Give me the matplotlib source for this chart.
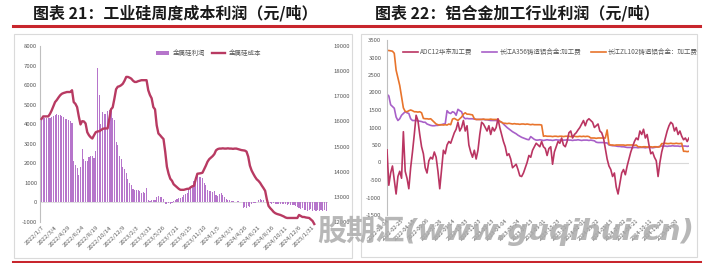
from __future__ import annotations

import matplotlib

matplotlib.use("Agg")
import matplotlib.pyplot as plt
import pandas as pd
from matplotlib.lines import Line2D
from matplotlib.patches import Rectangle

# ---- left panel: industrial silicon, weekly (from 2022/1/7) ----
si_start = "2022-01-07"
si_profit = [
    4300, 4300, 4300, 4320, 4300, 4300, 4350,
    4400, 4450, 4500, 4480, 4450, 4400,
    4380, 4250, 4250, 4200, 4150,
    4050, 2100, 1900,
    1750, 1400, 1800,
    2750, 2200, 2100,
    2100, 2300, 2400, 2350, 2250, 2650,
    6900, 5500, 4000, 4650,
    4500, 4500, 4700, 4750, 4700,
    4300, 4200, 3100, 2950,
    2400, 2200, 1800, 1700, 1500, 1200, 1000, 900,
    700, 650, 650, 650, 600, 500, 550, 500, 750,
    100, 80, 100, 120, 100,
    300, 320, 280, 300, 200,
    -100, -80, -50, -60, -40, 50,
    150, 200, 250, 250, 300, 400, 450,
    500, 700, 800, 850, 1100,
    1300, 1350, 1300, 1300, 1250, 1000,
    900, 650, 600, 600, 550, 600, 400, 350, 450, 500,
    400, 300, 200, 150, 100, 80, 50, 40, 30, 50, 30, 20,
    -300, -250, -300, -200, -250, -100,
    -50, -30, 0, 100, 180, 150, 100, 20,
    0, -20, -50, -60, -50,
    -80, -60, -100, -80, -100, -90, -100, -120, -100, -110, -150, -130, -200, -220,
    -300, -350, -300, -400, -380, -420, -400, -350, -420, -400, -430, -380, -420,
    -400, -430, -410, -420,
]
si_cost = [
    16100, 16200, 16200, 16200, 16200, 16300, 16440, 16600, 16770, 16850,
    16950, 17040, 17100, 17130, 17150, 17170, 17170, 17170, 17240, 16770,
    16700, 16570, 16200, 15880, 16010, 16000, 15920, 15570, 15450, 15370,
    15320, 15450, 15570, 15600, 15610, 15650, 15700, 15720, 15720, 15720,
    16100, 16480, 16560, 16900, 17280, 17380, 17400, 17440, 17500, 17620,
    17770, 17770, 17740, 17700, 17620, 17570, 17570, 17600, 17620, 17640,
    17640, 17640, 17640, 17240, 17050, 16920, 16570, 16480, 15840, 15520,
    15450, 15370, 15300, 14800, 14200, 13920, 13720, 13640, 13500, 13440,
    13380, 13320, 13280, 13280, 13280, 13300, 13320, 13320, 13380, 13420,
    13440, 13700, 13920, 13930, 13940, 13960, 14100, 14240, 14400, 14500,
    14560, 14620, 14700, 14850, 14900, 14920, 14920, 14930, 14920, 14920,
    14930, 14920, 14920, 14910, 14920, 14920, 14900, 14880, 14860, 14850,
    14840, 14800, 14600, 14240, 14050, 13920, 13800, 13700, 13640, 13560,
    13450, 13350, 13240, 12900, 12640, 12550, 12480, 12400, 12350, 12320,
    12300, 12280, 12250, 12220, 12180, 12160, 12160, 12160, 12160, 12160,
    12160, 12160, 12280, 12240, 12200, 12200, 12180, 12170, 12160, 12100,
    12040, 11920,
]
si_ticks = [
    "2022/1/7", "2022/3/4", "2022/4/29", "2022/6/24", "2022/8/19", "2022/10/14",
    "2022/12/9", "2023/2/3", "2023/3/31", "2023/5/26", "2023/7/21", "2023/9/15",
    "2023/11/10", "2024/1/5", "2024/3/1", "2024/4/26", "2024/6/21", "2024/8/16",
    "2024/10/11", "2024/12/6", "2025/1/31",
]

# ---- right panel: aluminium alloy processing fee, weekly samples ----
al_start = "2022-01-04"
adc12 = [
    360, -650, -300, -100, -500, -900, -400, -250, -450, 880,
    -250, -450, -750, -150, 300, 800, 1350, 1200, 800, 450,
    250, -150, -300, 50, 150, 100, 300, 150, -250, -750,
    -200, 350, 250, 500, 600, 550, 700, 850, 950, 1150,
    900, 1000, 1200, 900, 1050, 500, 300, 150, 350, 100,
    350, 800, 1150, 1100, 1000, 900, 1050, 800, 1000, 900,
    1000, 1250, 1000, 800, 600, 450, 200, 250, 100, -150,
    -100, -50, -200, -380, -400, -300, -150, 0, 200, 150,
    350, 450, 550, 500, 450, 600, 450, 400, 200, 400,
    450, -50, 300, 450, 600, 550, 700, 500, 450, 600,
    850, 900, 700, 800, 850, 930, 1000, 1100, 1200, 1050,
    1200, 1250, 1200, 1150, 1000, 1050, 1100, 900, 850, 700,
    400, 100, -100, -200, -400, -300, -700, -900, -600, -300,
    -200, -350, -100, 100, 300, 450, 600, 700, 650, 900,
    800, 950, 700, 800, 500, 250, 300, 150, 50, -400,
    0, 300, 500, 700, 900, 1050, 1150, 1100, 900, 1000,
    800, 900, 750, 650, 700, 600, 700,
]
a356 = [
    1950, 1900, 1650, 1600, 1550, 1300, 1200, 1250, 1350, 1400,
    1450, 1420, 1400, 1250, 1200, 1200, 1200, 1190, 1180, 1170,
    1150, 1150, 1100, 1080, 1060, 1050, 1050, 1060, 1060, 1080,
    1080, 1100, 1100, 1480, 1420, 1400, 1450, 1430, 1350, 1520,
    1480, 1450, 1300, 1250, 1260, 1250, 1250, 1250, 1240, 1230,
    1230, 1230, 1230, 1230, 1220, 1220, 1210, 1200, 1200, 1200,
    1200, 1190, 1170, 1150, 1100, 1050, 1000, 960, 920, 880,
    850, 820, 780, 750, 720, 700, 680, 660, 650, 740,
    700, 660, 640, 640, 650, 640, 630, 640, 650, 640,
    640, 630, 640, 650, 640, 640, 630, 640, 640, 650,
    640, 640, 630, 640, 640, 650, 640, 630, 640, 640,
    640, 630, 640, 630, 620, 580, 570, 570, 570, 570,
    560, 560, 500, 490, 480, 480, 470, 460, 460, 450,
    450, 440, 430, 430, 430, 420, 430, 430, 420, 430,
    430, 430, 420, 430, 430, 430, 420, 430, 440, 450,
    460, 470, 470, 470, 460, 470, 470, 480, 470, 470,
    470, 460, 470, 470, 470, 460, 470,
]
zl102 = [
    3200, 3200, 3190, 3180, 3120, 2640, 2420, 2200, 1880, 1560,
    1460, 1450, 1480, 1500, 1480, 1450, 1450, 1440, 1450, 1420,
    1260, 1250, 1250, 1240, 1250, 1200, 1150, 1100, 1080, 1070,
    1080, 1070, 1080, 1070, 1100, 1080, 1240, 1260, 1230, 1200,
    1250, 1300, 1380, 1420, 1380, 1380, 1370, 1360, 1250, 1230,
    1230, 1230, 1230, 1240, 1230, 1230, 1230, 1240, 1230, 1230,
    1230, 1230, 1180, 1150, 1120, 1120, 1110, 1120, 1110, 1100,
    1110, 1100, 1100, 1090, 1100, 1100, 1090, 1100, 1090, 1080,
    1090, 1080, 1080, 1080, 1080, 1070, 750, 760, 750, 750,
    750, 740, 750, 750, 740, 750, 750, 740, 750, 750,
    750, 740, 750, 750, 740, 740, 750, 740, 750, 740,
    750, 740, 700, 700, 700, 690, 700, 700, 700, 700,
    700, 930, 520, 500, 500, 490, 500, 500, 500, 500,
    500, 490, 500, 500, 500, 500, 490, 500, 450, 450,
    440, 450, 450, 440, 450, 450, 440, 450, 450, 440,
    450, 540, 540, 550, 540, 540, 550, 540, 540, 550,
    540, 540, 550, 320, 320, 310, 320,
]
al_ticks = [
    "2022-01-04", "2022-02-25", "2022-04-15", "2022-06-06", "2022-07-26",
    "2022-09-14", "2022-11-03", "2022-12-23", "2023-02-13", "2023-04-04",
    "2023-05-24", "2023-07-13", "2023-09-01", "2023-10-23", "2023-12-12",
    "2024-02-01", "2024-03-22", "2024-05-13", "2024-07-02", "2024-08-21",
    "2024-10-11", "2024-11-29", "2025-01-20",
]

W, H = 722, 263
GREY_TXT = "#595959"
RED = "#C8262D"


def fx(px: float) -> float:
    return px / W


def fy(py: float) -> float:
    return 1 - py / H


def style_axis(ax) -> None:
    for side in ("top", "right", "bottom"):
        ax.spines[side].set_visible(False)
    ax.spines["left"].set_color("#BFBFBF")
    ax.spines["left"].set_linewidth(0.8)
    ax.tick_params(axis="both", length=0, labelsize=4.3, colors=GREY_TXT)


plt.rcParams["font.family"] = ["Noto Sans CJK SC", "DejaVu Sans"]
plt.rcParams["axes.unicode_minus"] = False

fig = plt.figure(figsize=(W / 100, H / 100), dpi=100)
fig.patch.set_facecolor("white")

# frames, rules and titles
for x0, y0, x1, y1 in [(14, 34, 352, 258), (361, 34, 697, 257)]:
    fig.add_artist(Rectangle((fx(x0), fy(y1)), fx(x1 - x0), (y1 - y0) / H,
                             transform=fig.transFigure, fill=False,
                             edgecolor="#DADADA", linewidth=0.8))
for yy in (25.5, 261.5):
    fig.add_artist(Line2D([fx(13), fx(700)], [fy(yy), fy(yy)], color=RED, linewidth=2.2))
fig.text(fx(33), fy(13), "图表 21：工业硅周度成本利润（元/吨）", fontsize=11.5,
         fontweight="bold", va="center", ha="left", color="#1A1A1A")
fig.text(fx(375), fy(13), "图表 22：铝合金加工行业利润（元/吨）", fontsize=11.5,
         fontweight="bold", va="center", ha="left", color="#1A1A1A")

# ---- left chart ----
si_dates = pd.date_range(si_start, periods=len(si_profit), freq="7D")
cost_dates = pd.date_range(si_start, periods=len(si_cost), freq="7D")
t0 = pd.Timestamp(si_start)
week = pd.Timedelta(days=7)

ax1 = fig.add_axes([fx(40), fy(222), fx(288), 176 / H])
style_axis(ax1)
ax1.axhline(0, color="#D9D9D9", linewidth=0.6, zorder=1)
bars = ax1.bar(si_dates, si_profit, width=4.6, color="#B675CB", linewidth=0, zorder=2,
               label="金属硅利润")
ax1.set_ylim(-1000, 8000)
ax1.set_yticks(range(-1000, 8001, 1000))
ax1.set_xlim(t0 - 0.9 * week, t0 + 169.1 * week)
ax1.set_xticks(pd.to_datetime(si_ticks, format="%Y/%m/%d"))
ax1.set_xticklabels(si_ticks, rotation=45, ha="right", rotation_mode="anchor")
ax1.tick_params(axis="y", pad=2)
ax1.tick_params(axis="x", pad=2)

ax1b = ax1.twinx()
for side in ("top", "right", "bottom", "left"):
    ax1b.spines[side].set_visible(False)
(cost_line,) = ax1b.plot(cost_dates, si_cost, color="#B83A62", linewidth=1.7,
                         clip_on=False, zorder=3, label="金属硅成本")
ax1b.set_ylim(12000, 19000)
ax1b.set_yticks(range(12000, 19001, 1000))
ax1b.tick_params(axis="y", length=0, labelsize=4.3, colors=GREY_TXT, pad=4)

ax1.legend(handles=[bars, cost_line], ncol=2, frameon=False, fontsize=4.7,
           loc="center left", bbox_to_anchor=(fx(153), fy(53)),
           bbox_transform=fig.transFigure, borderpad=0, handlelength=2.0,
           handleheight=0.6, handletextpad=0.6, columnspacing=0.9, labelcolor=GREY_TXT)

# ---- right chart ----
al_dates = pd.date_range(al_start, periods=len(adc12), freq="7D")
ax2 = fig.add_axes([fx(387), fy(215), fx(302), 175 / H])
style_axis(ax2)
ax2.axhline(0, color="#D9D9D9", linewidth=0.8, zorder=1)
ax2.plot(al_dates, adc12, color="#BA3562", linewidth=1.2, zorder=3, label="ADC12华东加工费")
ax2.plot(al_dates, a356, color="#A860C8", linewidth=1.2, zorder=2, label="长江A356铸造铝合金:加工费")
ax2.plot(al_dates, zl102, color="#E8742C", linewidth=1.2, zorder=2, label="长江ZL102铸造铝合金：加工费")
ax2.set_ylim(-1500, 3500)
ax2.set_yticks(range(-1500, 3501, 500))
ax2.set_xlim(al_dates[0], al_dates[-1])
ax2.set_xticks(pd.to_datetime(al_ticks))
ax2.set_xticklabels(al_ticks, rotation=45, ha="right", rotation_mode="anchor")
ax2.tick_params(axis="y", pad=4)
ax2.tick_params(axis="x", pad=2, labelsize=4.0)
ax2.legend(ncol=3, frameon=False, fontsize=4.7, loc="center left",
           bbox_to_anchor=(fx(400), fy(52)), bbox_transform=fig.transFigure,
           borderpad=0, handlelength=2.3, handletextpad=0.3, columnspacing=1.5,
           labelcolor=GREY_TXT)

# watermark
fig.text(fx(317), fy(231), "股期汇(www.guqihui.cn)", fontsize=21, fontweight="bold",
         fontstyle="italic", color="#ABABAB", alpha=0.85, va="center", ha="left",
         family=["DejaVu Sans", "Noto Sans CJK SC"], zorder=10)

fig.savefig("out.png", dpi=100)
plt.close(fig)
